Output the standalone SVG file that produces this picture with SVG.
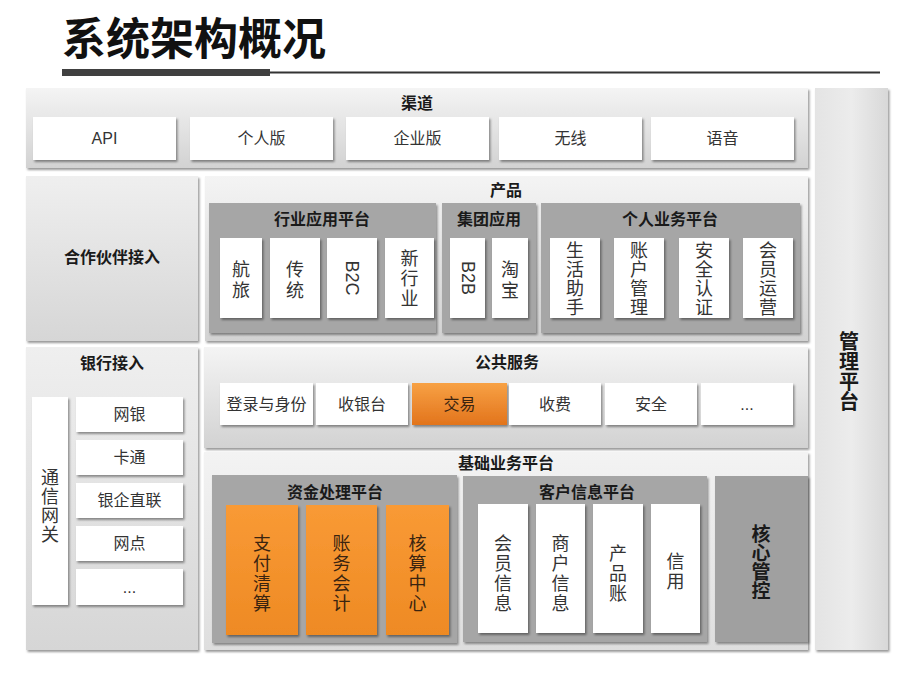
<svg xmlns="http://www.w3.org/2000/svg" width="912" height="683" viewBox="0 0 912 683">
<defs>
<linearGradient id="gPanel" x1="0" y1="0" x2="0" y2="1">
<stop offset="0" stop-color="#f4f4f4"/><stop offset="1" stop-color="#d2d2d2"/>
</linearGradient>
<linearGradient id="gSide" x1="0" y1="0" x2="0" y2="1">
<stop offset="0" stop-color="#efefef"/><stop offset="1" stop-color="#d6d6d6"/>
</linearGradient>
<linearGradient id="gMgmt" x1="0" y1="0" x2="1" y2="0">
<stop offset="0" stop-color="#e4e4e4"/><stop offset="0.5" stop-color="#ececec"/><stop offset="1" stop-color="#d8d8d8"/>
</linearGradient>
<linearGradient id="gBase" x1="0" y1="0" x2="0" y2="1">
<stop offset="0" stop-color="#f3f3f3"/><stop offset="1" stop-color="#dedede"/>
</linearGradient>
<linearGradient id="gOrange" x1="0" y1="0" x2="0" y2="1">
<stop offset="0" stop-color="#f99a35"/><stop offset="1" stop-color="#ee8a24"/>
</linearGradient>
<linearGradient id="gTrade" x1="0" y1="0" x2="0" y2="1">
<stop offset="0" stop-color="#f7a144"/><stop offset="1" stop-color="#e2741c"/>
</linearGradient>
<filter id="sh" x="-10%" y="-10%" width="130%" height="130%">
<feDropShadow dx="1.5" dy="2" stdDeviation="1.2" flood-color="#000" flood-opacity="0.4"/>
</filter>
</defs>
<style>
text{font-family:"Liberation Sans","Noto Sans CJK SC",sans-serif;}
.panel{fill:url(#gPanel);filter:url(#sh);}
.side{fill:url(#gSide);filter:url(#sh);}
.sub{fill:#a6a6a6;filter:url(#sh);}
.box{fill:#ffffff;filter:url(#sh);}
.org{fill:url(#gOrange);filter:url(#sh);}
.t{font-size:16px;font-weight:bold;fill:#1a1a1a;text-anchor:middle;dominant-baseline:central;}
.l{font-size:16px;fill:#333;text-anchor:middle;dominant-baseline:central;}
.v{font-size:18px;fill:#333;text-anchor:middle;dominant-baseline:central;}
.vo{font-size:18px;fill:#3a2410;text-anchor:middle;dominant-baseline:central;}
.vb{font-size:20px;font-weight:bold;fill:#1a1a1a;text-anchor:middle;dominant-baseline:central;}
</style>
<rect width="912" height="683" fill="#ffffff"/>

<g id="title">
<text x="62" y="55" style="font-family:'Noto Sans CJK SC',sans-serif;font-size:44px;font-weight:bold;fill:#111;">系统架构概况</text>
<rect x="62" y="69" width="208" height="7" fill="#404040"/>
<rect x="270" y="71.5" width="610" height="2" fill="#333"/>
</g>

<g id="mgmt">
<rect x="815" y="88" width="73" height="562" fill="url(#gMgmt)" filter="url(#sh)"/>
<text class="vb"><tspan x="849" y="342">管</tspan><tspan x="849" y="362">理</tspan><tspan x="849" y="382">平</tspan><tspan x="849" y="402">台</tspan></text>
</g>

<g id="channel">
<rect class="panel" x="26" y="88" width="782" height="80"/>
<text class="t" x="417" y="103">渠道</text>
<rect class="box" x="33" y="117" width="143" height="43"/><text class="l" x="104.5" y="138.5">API</text>
<rect class="box" x="190" y="117" width="143" height="43"/><text class="l" x="261.5" y="138.5">个人版</text>
<rect class="box" x="346" y="117" width="143" height="43"/><text class="l" x="417.5" y="138.5">企业版</text>
<rect class="box" x="499" y="117" width="143" height="43"/><text class="l" x="570.5" y="138.5">无线</text>
<rect class="box" x="651" y="117" width="143" height="43"/><text class="l" x="722.5" y="138.5">语音</text>
</g>

<g id="partner">
<rect class="side" x="26" y="176" width="172" height="165"/>
<text class="t" x="112" y="257">合作伙伴接入</text>
</g>

<g id="product">
<rect class="panel" x="205" y="176" width="603" height="165"/>
<text class="t" x="506" y="190">产品</text>
<g id="industry">
<rect class="sub" x="209" y="203" width="227" height="130"/>
<text class="t" x="322" y="219">行业应用平台</text>
<rect class="box" x="220" y="238" width="42" height="80"/>
<text class="v"><tspan x="241" y="270">航</tspan><tspan x="241" y="291">旅</tspan></text>
<rect class="box" x="270" y="238" width="50" height="80"/>
<text class="v"><tspan x="295" y="270">传</tspan><tspan x="295" y="291">统</tspan></text>
<rect class="box" x="327" y="238" width="50" height="80"/>
<text class="v" transform="translate(352 278) rotate(90)" x="0" y="0">B2C</text>
<rect class="box" x="385" y="238" width="49" height="80"/>
<text class="v"><tspan x="409.5" y="259">新</tspan><tspan x="409.5" y="279">行</tspan><tspan x="409.5" y="299">业</tspan></text>
</g>
<g id="group">
<rect class="sub" x="442" y="203" width="94" height="130"/>
<text class="t" x="489" y="219">集团应用</text>
<rect class="box" x="450" y="238" width="35" height="80"/>
<text class="v" transform="translate(467.5 278) rotate(90)" x="0" y="0">B2B</text>
<rect class="box" x="492" y="238" width="36" height="80"/>
<text class="v"><tspan x="510" y="270">淘</tspan><tspan x="510" y="291">宝</tspan></text>
</g>
<g id="personal">
<rect class="sub" x="541" y="203" width="259" height="130"/>
<text class="t" x="670" y="219">个人业务平台</text>
<rect class="box" x="550" y="238" width="50" height="80"/>
<text class="v"><tspan x="575" y="251">生</tspan><tspan x="575" y="270">活</tspan><tspan x="575" y="289">助</tspan><tspan x="575" y="308">手</tspan></text>
<rect class="box" x="614" y="238" width="50" height="80"/>
<text class="v"><tspan x="639" y="251">账</tspan><tspan x="639" y="270">户</tspan><tspan x="639" y="289">管</tspan><tspan x="639" y="308">理</tspan></text>
<rect class="box" x="679" y="238" width="50" height="80"/>
<text class="v"><tspan x="704" y="251">安</tspan><tspan x="704" y="270">全</tspan><tspan x="704" y="289">认</tspan><tspan x="704" y="308">证</tspan></text>
<rect class="box" x="743" y="238" width="50" height="80"/>
<text class="v"><tspan x="768" y="251">会</tspan><tspan x="768" y="270">员</tspan><tspan x="768" y="289">运</tspan><tspan x="768" y="308">营</tspan></text>
</g>
</g>

<g id="bank">
<rect class="side" x="26" y="347" width="172" height="303"/>
<text class="t" x="112" y="363">银行接入</text>
<rect class="box" x="32" y="397" width="36" height="208"/>
<text class="v"><tspan x="50" y="478">通</tspan><tspan x="50" y="497">信</tspan><tspan x="50" y="516">网</tspan><tspan x="50" y="535">关</tspan></text>
<rect class="box" x="76" y="397" width="107" height="35"/><text class="l" x="129.5" y="414.5">网银</text>
<rect class="box" x="76" y="440" width="107" height="35"/><text class="l" x="129.5" y="457.5">卡通</text>
<rect class="box" x="76" y="483" width="107" height="35"/><text class="l" x="129.5" y="500.5">银企直联</text>
<rect class="box" x="76" y="526" width="107" height="35"/><text class="l" x="129.5" y="543.5">网点</text>
<rect class="box" x="76" y="569" width="107" height="36"/><text class="l" x="129.5" y="587">...</text>
</g>

<g id="public">
<rect class="panel" x="204" y="347" width="604" height="101"/>
<text class="t" x="507" y="362">公共服务</text>
<rect class="box" x="220" y="383" width="93" height="42"/><text class="l" x="266.5" y="404">登录与身份</text>
<rect class="box" x="316" y="383" width="92" height="42"/><text class="l" x="362" y="404">收银台</text>
<rect x="412" y="383" width="95" height="42" fill="url(#gTrade)" filter="url(#sh)"/><text class="l" x="459.5" y="404" style="fill:#3a2410">交易</text>
<rect class="box" x="509" y="383" width="92" height="42"/><text class="l" x="555" y="404">收费</text>
<rect class="box" x="605" y="383" width="92" height="42"/><text class="l" x="651" y="404">安全</text>
<rect class="box" x="701" y="383" width="92" height="42"/><text class="l" x="747" y="404">...</text>
</g>

<g id="base">
<rect x="204" y="452" width="604" height="198" fill="url(#gBase)" filter="url(#sh)"/>
<text class="t" x="506" y="463">基础业务平台</text>
<g id="funds">
<rect class="sub" x="212" y="475" width="245" height="168"/>
<text class="t" x="335" y="492">资金处理平台</text>
<rect class="org" x="226" y="505" width="72" height="130"/>
<text class="vo"><tspan x="262" y="544">支</tspan><tspan x="262" y="564">付</tspan><tspan x="262" y="584">清</tspan><tspan x="262" y="604">算</tspan></text>
<rect class="org" x="306" y="505" width="71" height="130"/>
<text class="vo"><tspan x="341.5" y="544">账</tspan><tspan x="341.5" y="564">务</tspan><tspan x="341.5" y="584">会</tspan><tspan x="341.5" y="604">计</tspan></text>
<rect class="org" x="386" y="505" width="63" height="130"/>
<text class="vo"><tspan x="417.5" y="544">核</tspan><tspan x="417.5" y="564">算</tspan><tspan x="417.5" y="584">中</tspan><tspan x="417.5" y="604">心</tspan></text>
</g>
<g id="customer">
<rect class="sub" x="463" y="476" width="244" height="166"/>
<text class="t" x="587" y="492">客户信息平台</text>
<rect class="box" x="478" y="504" width="50" height="129"/>
<text class="v"><tspan x="503" y="544">会</tspan><tspan x="503" y="564">员</tspan><tspan x="503" y="584">信</tspan><tspan x="503" y="604">息</tspan></text>
<rect class="box" x="536" y="504" width="49" height="129"/>
<text class="v"><tspan x="560.5" y="544">商</tspan><tspan x="560.5" y="564">户</tspan><tspan x="560.5" y="584">信</tspan><tspan x="560.5" y="604">息</tspan></text>
<rect class="box" x="593" y="504" width="50" height="129"/>
<text class="v"><tspan x="618" y="554">产</tspan><tspan x="618" y="574">品</tspan><tspan x="618" y="594">账</tspan></text>
<rect class="box" x="651" y="504" width="49" height="129"/>
<text class="v"><tspan x="675.5" y="562">信</tspan><tspan x="675.5" y="582">用</tspan></text>
</g>
<g id="core">
<rect x="715" y="476" width="93" height="166" fill="#a0a0a0" filter="url(#sh)"/>
<text class="vb" style="font-size:19px"><tspan x="761" y="534">核</tspan><tspan x="761" y="553">心</tspan><tspan x="761" y="572">管</tspan><tspan x="761" y="591">控</tspan></text>
</g>
</g>
</svg>
